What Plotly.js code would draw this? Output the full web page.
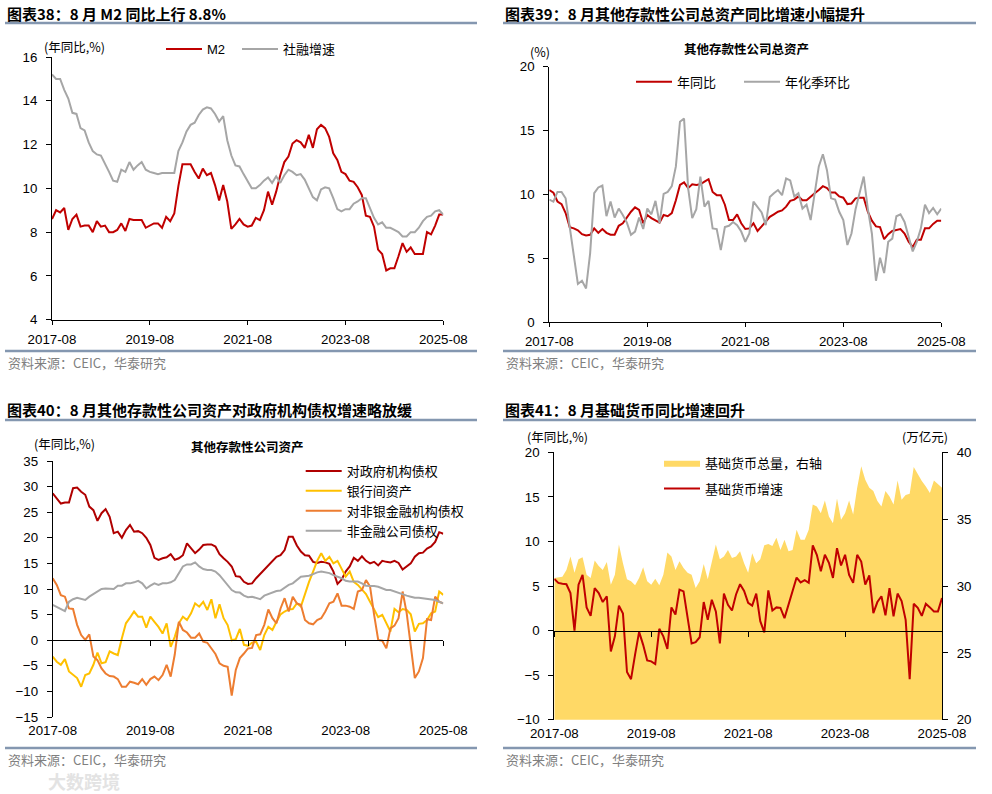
<!DOCTYPE html>
<html><head><meta charset="utf-8">
<script src="https://cdn.plot.ly/plotly-3.0.1.min.js"></script>
<style>html,body{margin:0;padding:0;background:#fff}#chart{width:992px;height:794px}</style>
</head><body><div id="chart"></div>
<script>
// ---------- categories ----------
const months = [];
(function(){let y=2017,m=8;for(let i=0;i<97;i++){months.push(y+'-'+String(m).padStart(2,'0'));m++;if(m>12){m=1;y++;}}})();
const tickLabels = ['2017-08','2019-08','2021-08','2023-08','2025-08'];

// ---------- 图表38 ----------
const m2 = [8.6,9.0,8.9,9.1,8.1,8.6,8.8,8.25,8.3,8.3,
 8.0,8.5,8.25,8.3,8.0,8.0,8.1,8.4,8.05,8.6,
 8.55,8.55,8.55,8.2,8.3,8.4,8.4,8.2,8.7,8.5,
 8.85,10.1,11.1,11.1,11.1,10.75,10.45,10.9,10.6,10.7,
 10.15,9.45,10.15,9.4,8.15,8.35,8.6,8.35,8.25,8.3,
 8.65,8.55,9.0,9.85,9.25,9.85,10.6,11.2,11.45,12.05,
 12.2,12.1,11.85,12.45,11.85,12.7,12.9,12.75,12.35,11.6,
 11.3,10.75,10.65,10.35,10.3,10.05,9.7,8.75,8.7,8.25,
 7.2,7.0,6.25,6.35,6.35,6.9,7.5,7.1,7.3,7.0,
 7.0,7.0,8.0,7.9,8.3,8.8,8.8];
const tsf = [15.2,15.0,15.0,14.5,14.1,13.45,13.4,12.75,12.65,12.1,
 11.7,11.55,11.5,11.15,10.75,10.35,10.3,10.85,10.75,11.2,
 10.85,11.05,11.2,10.85,10.75,10.7,10.65,10.7,10.7,10.7,
 10.7,11.7,12.1,12.6,12.9,13.0,13.35,13.6,13.7,13.65,
 13.4,13.05,13.3,12.2,11.5,11.05,11.0,10.65,10.3,10.0,
 10.0,10.15,10.35,10.5,10.25,10.55,10.25,10.6,10.85,10.75,
 10.6,10.65,10.4,10.0,9.6,9.45,9.95,10.05,10.0,9.55,
 9.05,8.95,9.05,9.05,9.3,9.4,9.55,9.55,9.1,8.65,
 8.35,8.45,8.2,8.2,8.1,8.0,7.8,7.8,8.0,8.0,
 8.2,8.5,8.7,8.75,8.95,9.0,8.8];

// ---------- 图表39 ----------
const odcYoy = [10.35,10.15,9.45,9.25,8.55,7.45,7.35,7.2,6.9,6.8,
 6.85,7.35,7.0,7.3,7.0,6.85,6.85,7.55,7.75,8.25,
 8.65,9.0,8.8,7.75,8.4,8.15,8.0,7.8,8.4,8.3,
 8.55,9.55,10.75,10.95,10.5,10.8,10.75,10.8,11.0,11.2,
 10.2,9.95,9.95,9.2,8.0,8.0,8.45,7.75,7.3,7.35,
 7.75,7.15,7.5,7.85,8.25,8.45,8.65,8.75,9.05,9.5,
 9.6,9.85,9.55,9.55,9.85,10.1,10.35,10.65,10.5,10.15,
 10.15,9.85,9.75,9.25,9.3,9.7,9.75,9.75,8.65,7.95,
 7.5,7.45,6.5,6.9,7.15,7.2,7.3,6.95,6.3,5.9,
 6.45,6.45,7.35,7.35,7.7,7.95,7.95];
const odcQoq = [9.6,9.45,10.2,10.2,9.7,7.5,5.15,3.0,3.25,2.65,
 5.4,10.1,10.55,10.7,8.3,9.45,8.2,8.9,8.4,7.8,
 6.85,7.1,8.2,7.3,8.9,8.45,9.5,7.75,10.05,10.2,
 10.65,12.2,15.7,15.95,10.5,8.15,8.85,11.4,9.05,9.5,
 7.35,7.3,5.65,7.45,7.55,7.85,7.6,7.1,6.3,6.95,
 9.45,9.05,8.6,7.6,9.8,10.1,10.35,9.95,11.25,11.1,
 9.85,10.1,8.9,9.2,8.0,10.1,12.2,13.15,11.9,9.7,
 9.6,8.65,8.0,6.05,6.95,8.85,10.1,11.4,8.9,6.95,
 3.25,5.05,3.85,6.3,6.55,8.3,8.45,7.85,6.7,5.55,
 6.3,7.35,9.2,8.55,8.95,8.45,8.9];

// ---------- 图表40 ----------
const govClaims = [28.7,27.7,26.7,26.9,26.9,29.7,29.8,29.0,28.4,26.1,
 25.4,23.3,24.8,25.6,24.1,20.9,21.2,20.0,21.5,22.5,
 21.2,21.3,20.9,20.0,18.6,16.1,15.7,16.0,16.2,16.8,
 15.7,16.0,16.6,18.9,17.9,17.0,17.7,18.6,18.7,18.7,
 18.3,16.8,16.0,15.3,14.4,12.5,12.4,11.4,11.0,11.1,
 12.1,12.9,13.7,14.7,15.5,16.3,16.6,17.6,20.2,20.2,
 18.5,17.3,16.6,16.5,15.3,15.1,15.3,15.2,14.9,13.4,
 11.0,11.8,13.4,14.4,16.1,15.5,16.4,15.5,15.0,15.3,
 14.6,15.5,15.3,15.2,15.5,15.1,13.8,14.4,15.0,16.3,
 17.0,17.1,17.9,18.3,19.2,21.1,20.8];
const interbank = [-3.2,-4.2,-4.8,-3.7,-6.1,-6.8,-7.4,-9.1,-6.8,-6.5,
 -4.8,-2.4,-4.5,-4.3,-2.2,-2.6,-2.9,0.4,3.3,4.4,
 5.6,4.6,4.6,2.45,4.6,3.6,2.6,1.3,3.3,-1.3,
 0.65,3.3,4.6,3.95,5.25,7.2,6.55,7.5,5.9,8.0,
 4.3,7.0,4.3,2.95,0.0,0.2,2.2,-0.9,-1.1,-0.5,
 -0.3,-1.9,1.0,2.6,2.0,3.6,5.05,5.6,6.0,6.1,
 7.2,6.55,9.15,11.4,13.4,15.5,17.0,15.5,16.3,15.0,
 15.5,14.0,12.4,13.4,11.4,10.8,9.8,9.0,7.5,5.9,
 4.5,4.95,3.3,1.7,6.1,5.45,6.1,5.9,5.05,1.7,
 3.2,3.3,3.95,5.25,5.6,9.5,8.85];
const nbfiClaims = [12.1,10.8,8.8,8.5,6.2,6.1,3.0,1.0,0.05,1.15,
 -3.2,-3.9,-5.5,-6.5,-7.0,-7.1,-7.6,-9.1,-9.1,-8.1,
 -8.3,-8.6,-7.6,-8.7,-7.6,-7.1,-7.8,-6.8,-4.8,-7.1,
 -2.8,3.6,2.0,1.5,0.5,0.5,1.3,-0.3,-0.5,-1.5,
 -2.7,-4.5,-5.0,-5.2,-10.8,-5.8,-3.5,-2.6,-1.6,-1.5,
 1.0,1.15,3.0,6.0,4.3,3.3,6.2,8.2,5.6,8.5,
 7.2,6.9,3.95,3.3,3.1,3.95,4.3,5.6,7.2,7.5,
 9.15,6.75,6.75,6.55,6.1,9.5,9.8,11.75,10.45,4.95,
 0.05,-0.1,-1.6,2.3,2.85,4.3,9.5,5.3,-0.6,-7.4,
 -6.1,-3.5,4.1,3.95,8.5,7.5,7.2];
const corpClaims = [6.9,6.55,6.1,5.7,7.5,8.0,8.3,8.0,7.85,8.5,
 9.0,9.5,10.0,10.1,10.1,10.0,10.65,10.65,11.1,11.1,
 11.3,11.6,11.1,10.1,10.65,11.1,10.8,11.1,11.1,11.3,
 11.75,13.1,14.4,14.8,14.8,15.2,14.4,13.9,13.7,13.7,
 13.4,12.7,11.75,10.8,9.8,9.35,9.3,8.7,8.4,8.5,
 8.3,8.0,8.7,9.0,9.15,9.6,9.7,10.25,10.8,11.1,
 11.75,12.4,12.5,12.6,12.9,13.25,13.4,13.25,13.1,12.7,
 12.4,12.1,11.6,11.45,11.45,11.45,11.1,10.65,10.6,10.6,
 10.45,10.1,9.8,9.8,9.5,9.3,9.0,8.7,8.5,8.3,
 8.3,8.2,8.0,8.0,7.85,7.5,7.2];

// ---------- 图表41 ----------
const baseMoney = [30.6,30.65,30.7,31.2,32.2,31.0,32.0,32.15,30.85,30.6,
 31.9,31.5,31.2,31.8,30.1,30.85,33.1,31.7,30.5,30.35,
 30.05,30.6,31.4,30.35,30.1,30.55,30.05,30.85,32.5,32.2,
 31.2,31.85,31.35,31.0,30.85,29.85,30.35,31.65,30.5,31.8,
 33.1,32.0,32.2,32.7,32.1,32.2,32.6,31.7,31.0,32.45,
 31.7,32.0,33.05,33.15,33.0,33.6,32.7,33.45,32.6,32.7,
 34.2,33.45,33.45,34.2,36.1,35.95,35.45,36.4,35.2,34.7,
 36.55,34.95,35.45,36.4,35.35,37.35,38.95,37.95,37.35,37.1,
 36.35,35.95,37.1,36.7,36.1,37.9,36.45,36.8,36.9,38.9,
 38.35,37.85,37.45,36.95,37.9,37.6,37.35];
const baseMoneyYoy = [5.8,5.35,5.25,5.2,4.2,0.0,5.15,6.25,2.6,1.65,
 4.75,4.2,3.2,3.85,-2.35,-0.65,2.8,1.9,-4.65,-5.45,
 -2.7,-0.15,-1.6,-3.35,-3.45,-3.75,0.2,-0.65,-2.05,2.6,
 1.8,4.6,4.4,1.5,-1.45,-1.3,-0.75,3.2,1.2,3.45,
 2.15,-1.45,4.15,2.9,2.25,4.05,5.2,4.45,3.1,2.8,
 4.15,1.05,-0.2,4.5,2.25,2.6,2.55,1.4,2.9,4.4,
 5.95,5.4,5.65,5.35,9.55,8.5,6.65,8.5,7.6,5.9,
 9.25,7.3,8.5,6.25,5.35,8.5,7.75,5.15,6.2,1.95,
 3.2,3.85,1.7,4.75,1.6,4.15,3.3,1.2,-5.45,3.0,
 2.55,1.65,3.0,2.6,2.15,2.15,3.65];

// ---------- layout helpers ----------
const W = 992, H = 794;
const px = x => x / W, py = y => 1 - y / H;
const tickIdx = tickLabels.map(t => months.indexOf(t));
const xRange = [0, months.length - 1];
const zeroPos = (dom, r) => dom[0] + (0 - r[0]) / (r[1] - r[0]) * (dom[1] - dom[0]);

const NUM = 'Liberation Sans, Arial, Noto Sans CJK SC, sans-serif';
const CJK = 'Noto Sans CJK SC, Liberation Sans, sans-serif';
const tickFont = {family: NUM, size: 13.3, color: '#000'};
const RED = '#C00000', GRAY = '#A6A6A6';

function xAx(dom, anchor, withLine) {
  return {domain: dom, anchor: anchor, type: 'category', range: xRange,
    tickmode: 'array', tickvals: tickLabels, ticktext: tickLabels,
    ticks: withLine ? 'outside' : '', ticklen: 4, tickcolor: '#000',
    showline: withLine, linecolor: '#000', linewidth: 1,
    showgrid: false, zeroline: false, tickfont: tickFont, ticklabelstandoff: withLine ? 3 : 4, fixedrange: true};
}
function yAx(dom, anchor, range, dtick, side) {
  return {domain: dom, anchor: anchor, range: range, dtick: dtick, tick0: 0, side: side || 'left',
    ticks: 'outside', ticklen: 5, tickcolor: '#000', showline: true, linecolor: '#000', linewidth: 1,
    showgrid: false, zeroline: false, tickfont: tickFont, ticklabelstandoff: 6, fixedrange: true};
}
function zeroAx(over, pos) {
  return {overlaying: over, anchor: 'free', position: pos, type: 'linear', range: xRange,
    tickmode: 'array', tickvals: tickIdx, ticks: 'outside', ticklen: 5, tickcolor: '#000',
    showticklabels: false, showline: true, linecolor: '#000', linewidth: 1, showgrid: false, zeroline: false, fixedrange: true};
}

const d1x = [px(52), px(443.3)], d1y = [py(319.7), py(57)];
const d2x = [px(549.3), px(941.3)], d2y = [py(322.3), py(66.7)];
const d3x = [px(52.7), px(443.3)], d3y = [py(717), py(461)];
const d4x = [px(554.3), px(942)], d4y = [py(719.7), py(452.3)];
const r3 = [-15, 35], r4l = [-10, 20], r4r = [20, 40];

const ln = (c) => ({color: c, width: 2});
const traces = [
  {x: months, y: m2, name: 'M2', mode: 'lines', line: ln(RED), xaxis: 'x', yaxis: 'y', legend: 'legend'},
  {x: months, y: tsf, name: '社融增速', mode: 'lines', line: ln(GRAY), xaxis: 'x', yaxis: 'y', legend: 'legend5'},
  {x: months, y: odcYoy, name: '年同比', mode: 'lines', line: ln(RED), xaxis: 'x2', yaxis: 'y2', legend: 'legend2'},
  {x: months, y: odcQoq, name: '年化季环比', mode: 'lines', line: ln(GRAY), xaxis: 'x2', yaxis: 'y2', legend: 'legend6'},
  {x: months, y: govClaims, name: '对政府机构债权', mode: 'lines', line: ln('#B00000'), xaxis: 'x3', yaxis: 'y3', legend: 'legend3'},
  {x: months, y: interbank, name: '银行间资产', mode: 'lines', line: ln('#FFC000'), xaxis: 'x3', yaxis: 'y3', legend: 'legend3'},
  {x: months, y: nbfiClaims, name: '对非银金融机构债权', mode: 'lines', line: ln('#ED7D31'), xaxis: 'x3', yaxis: 'y3', legend: 'legend3'},
  {x: months, y: corpClaims, name: '非金融公司债权', mode: 'lines', line: ln(GRAY), xaxis: 'x3', yaxis: 'y3', legend: 'legend3'},
  {x: [], y: [], mode: 'lines', xaxis: 'x5', yaxis: 'y3', showlegend: false, hoverinfo: 'skip'},
  {x: months, y: baseMoney, name: '基础货币总量，右轴', mode: 'lines', fill: 'tozeroy', fillcolor: '#FFD966',
   line: {color: '#FFD966', width: 0}, xaxis: 'x4', yaxis: 'y4', legend: 'legend4', legendgroup: 'a'},
  {x: months, y: baseMoneyYoy, name: '基础货币增速', mode: 'lines', line: ln(RED), xaxis: 'x4', yaxis: 'y5', legend: 'legend4', legendgroup: 'b'},
  {x: [], y: [], mode: 'lines', xaxis: 'x6', yaxis: 'y4', showlegend: false, hoverinfo: 'skip'}
];

const legFont = {family: 'Liberation Sans, Noto Sans CJK SC, sans-serif', size: 13, color: '#000'};
const legBase = {bgcolor: 'rgba(0,0,0,0)', borderwidth: 0, font: legFont, xanchor: 'left', yanchor: 'top', itemwidth: 36, itemclick: false, itemdoubleclick: false};
const leg = (o) => Object.assign({}, legBase, o);

const ann = (text, x, y, o) => Object.assign({text: text, xref: 'paper', yref: 'paper', x: px(x), y: py(y),
  xanchor: 'left', yanchor: 'middle', showarrow: false, font: {family: CJK, size: 13, color: '#000'}}, o || {});
const titleFont = {family: CJK, size: 15, color: '#000', weight: 700};
const srcFont = {family: CJK, size: 13, color: '#808080'};
const unitFont = {family: CJK, size: 12.5, color: '#000'};
const subFont = {family: CJK, size: 12.5, color: '#000', weight: 700};

const sep = (x0, x1, y) => ({type: 'line', xref: 'paper', yref: 'paper', x0: px(x0), x1: px(x1), y0: py(y), y1: py(y),
  line: {color: '#8497B0', width: 2.5}});

const layout = {
  width: W, height: H, autosize: false, margin: {l: 0, r: 0, t: 0, b: 0},
  paper_bgcolor: '#fff', plot_bgcolor: 'rgba(0,0,0,0)', font: {family: NUM, size: 13, color: '#000'},
  hovermode: false, showlegend: true,
  xaxis: xAx(d1x, 'y', true), yaxis: yAx(d1y, 'x', [4, 16], 2),
  xaxis2: xAx(d2x, 'y2', true), yaxis2: yAx(d2y, 'x2', [0, 20], 5),
  xaxis3: xAx(d3x, 'y3', false), yaxis3: yAx(d3y, 'x3', r3, 5),
  xaxis5: zeroAx('x3', zeroPos(d3y, r3)),
  xaxis4: xAx(d4x, 'y4', false), yaxis4: yAx(d4y, 'x4', r4r, 5, 'right'),
  yaxis5: Object.assign(yAx(d4y, 'x4', r4l, 5, 'left'), {overlaying: 'y4'}),
  xaxis6: zeroAx('x4', zeroPos(d4y, r4l)),
  legend: leg({orientation: 'h', x: px(161), y: py(34), visible: true}),
  legend5: leg({orientation: 'h', x: px(237), y: py(34)}),
  legend2: leg({orientation: 'h', x: px(631), y: py(66.7)}),
  legend6: leg({orientation: 'h', x: px(739), y: py(66.7)}),
  legend3: leg({orientation: 'v', x: px(300.7), y: py(456)}),
  legend4: leg({orientation: 'v', x: px(659), y: py(447.7), tracegroupgap: 6}),
  shapes: [sep(5, 477, 23), sep(503, 976, 23), sep(5, 477, 351), sep(503, 976, 351),
           sep(5, 477, 420), sep(503, 976, 420), sep(5, 477, 748), sep(503, 976, 748)],
  annotations: [
    ann('图表38：8 月 M2 同比上行 8.8%', 5, 14, {font: titleFont}),
    ann('图表39：8 月其他存款性公司总资产同比增速小幅提升', 503, 14, {font: titleFont}),
    ann('图表40：8 月其他存款性公司资产对政府机构债权增速略放缓', 5, 410, {font: titleFont}),
    ann('图表41：8 月基础货币同比增速回升', 503, 410, {font: titleFont}),
    ann('资料来源：CEIC，华泰研究', 6, 362.5, {font: srcFont}),
    ann('资料来源：CEIC，华泰研究', 504, 362.5, {font: srcFont}),
    ann('资料来源：CEIC，华泰研究', 6, 759.5, {font: srcFont}),
    ann('资料来源：CEIC，华泰研究', 504, 759.5, {font: srcFont}),
    ann('(年同比,%)', 42, 46, {font: unitFont}),
    ann('(%)', 528, 51, {font: unitFont}),
    ann('(年同比,%)', 32, 443, {font: unitFont}),
    ann('(年同比,%)', 525, 436, {font: unitFont}),
    ann('(万亿元)', 900, 436, {font: unitFont}),
    ann('其他存款性公司总资产', 746, 48, {font: subFont, xanchor: 'center'}),
    ann('其他存款性公司资产', 247, 446, {font: subFont, xanchor: 'center'}),
    ann('大数跨境', 46, 781, {font: {family: CJK, size: 18, color: '#E3E3E3', weight: 700}})
  ]
};

Plotly.newPlot('chart', traces, layout, {staticPlot: true, displayModeBar: false});
</script>
</body></html>
